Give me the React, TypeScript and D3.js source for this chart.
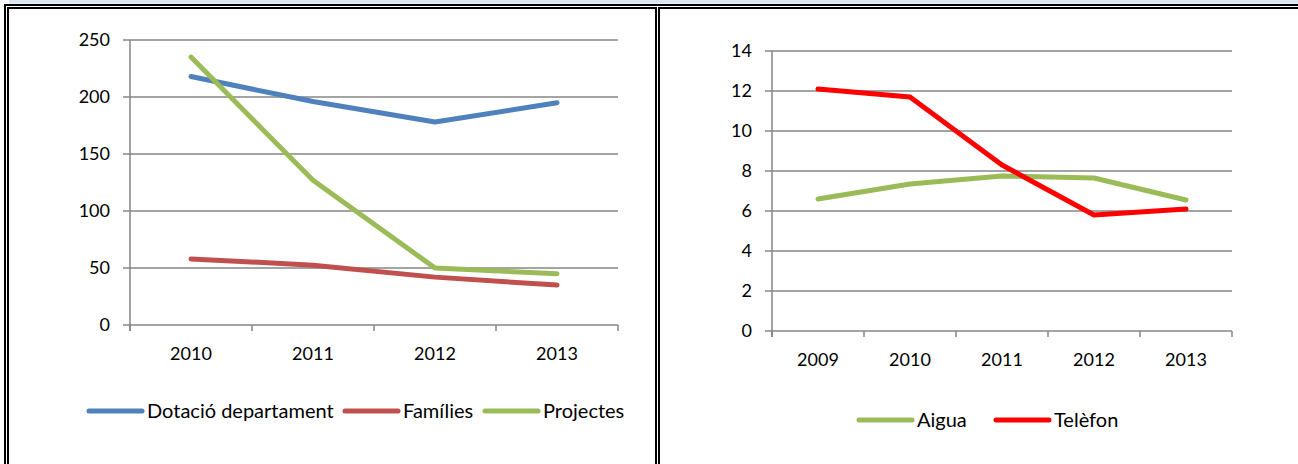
import * as d3 from 'd3';

const leftYears = ['2010', '2011', '2012', '2013'];
const dotacio = [218, 196, 178, 195];
const families = [58, 52.5, 42, 35];
const projectes = [235, 127, 50, 45];
const leftTicks = [0, 50, 100, 150, 200, 250];

const rightYears = ['2009', '2010', '2011', '2012', '2013'];
const aigua = [6.6, 7.35, 7.75, 7.65, 6.55];
const telefon = [12.1, 11.7, 8.3, 5.8, 6.1];
const rightTicks = [0, 2, 4, 6, 8, 10, 12, 14];

const FONT = 'Lato, "Noto Sans", sans-serif';
const GRID = '#868686';

interface Series {
  name: string;
  color: string;
  values: number[];
}

interface LegendItem {
  name: string;
  color: string;
  x: number;
}

function LineChart({
  cats,
  series,
  ticks,
  yMax,
  x0,
  x1,
  yTop,
  yBottom,
  legendY,
  legend,
}: {
  cats: string[];
  series: Series[];
  ticks: number[];
  yMax: number;
  x0: number;
  x1: number;
  yTop: number;
  yBottom: number;
  legendY: number;
  legend: LegendItem[];
}) {
  const y = d3.scaleLinear().domain([0, yMax]).range([yBottom, yTop]);
  const x = d3.scaleBand<string>().domain(cats).range([x0, x1]);
  const cx = (c: string) => (x(c) ?? 0) + x.bandwidth() / 2;
  const line = d3
    .line<number>()
    .x((_, i) => cx(cats[i]))
    .y((d) => y(d));
  const bounds = [...cats.map((c) => x(c) ?? 0), x1];

  return (
    <g>
      {ticks.map((t) => (
        <g key={`g-${t}`}>
          <line x1={x0 - 7} x2={x1} y1={y(t)} y2={y(t)} stroke={GRID} strokeWidth={1.5} />
          <text
            x={x0 - 20}
            y={y(t)}
            dy="0.36em"
            textAnchor="end"
            fontSize={18}
            fontFamily={FONT}
            fill="#000"
          >
            {t}
          </text>
        </g>
      ))}
      <line x1={x0} x2={x0} y1={yTop} y2={yBottom + 6} stroke={GRID} strokeWidth={1.5} />
      {bounds.map((b, i) => (
        <line key={`t-${i}`} x1={b} x2={b} y1={yBottom} y2={yBottom + 6} stroke={GRID} strokeWidth={1.5} />
      ))}
      {cats.map((c) => (
        <text
          key={`c-${c}`}
          x={cx(c)}
          y={yBottom + 35}
          textAnchor="middle"
          fontSize={18}
          fontFamily={FONT}
          fill="#000"
        >
          {c}
        </text>
      ))}
      {series.map((s) => (
        <path
          key={s.name}
          d={line(s.values) ?? undefined}
          fill="none"
          stroke={s.color}
          strokeWidth={5}
          strokeLinecap="round"
          strokeLinejoin="round"
        />
      ))}
      {legend.map((l) => (
        <g key={`l-${l.name}`}>
          <line
            x1={l.x}
            x2={l.x + 53}
            y1={legendY}
            y2={legendY}
            stroke={l.color}
            strokeWidth={5}
            strokeLinecap="round"
          />
          <text x={l.x + 58} y={legendY} dy="0.36em" fontSize={20} fontFamily={FONT} fill="#000">
            {l.name}
          </text>
        </g>
      ))}
    </g>
  );
}

export default function App() {
  const W = 1298;
  const H = 464;
  const leftSeries: Series[] = [
    { name: 'Dotació departament', color: '#4f81bd', values: dotacio },
    { name: 'Famílies', color: '#c0504d', values: families },
    { name: 'Projectes', color: '#9bbb59', values: projectes },
  ];
  const rightSeries: Series[] = [
    { name: 'Aigua', color: '#9bbb59', values: aigua },
    { name: 'Telèfon', color: '#ff0000', values: telefon },
  ];

  return (
    <div style={{ position: 'fixed', left: 0, top: 0 }}>
      <svg width={W} height={H} style={{ display: 'block', background: '#fff' }}>
        {/* frame */}
        <rect x={9} y={0} width={W - 9} height={3.5} fill="#dbe5f1" />
        <rect x={4} y={4} width={W - 4} height={2} fill="#000" />
        <rect x={7} y={7} width={W - 7} height={2} fill="#000" />
        <rect x={4} y={4} width={2} height={H - 4} fill="#000" />
        <rect x={7} y={7} width={2} height={H - 7} fill="#000" />
        <rect x={655} y={7} width={2} height={H - 7} fill="#000" />
        <rect x={658} y={7} width={2} height={H - 7} fill="#000" />
        <rect x={657} y={7} width={1} height={2} fill="#fff" />

        <LineChart
          cats={leftYears}
          series={leftSeries}
          ticks={leftTicks}
          yMax={250}
          x0={130}
          x1={618}
          yTop={40}
          yBottom={325}
          legendY={411}
          legend={[
            { name: 'Dotació departament', color: '#4f81bd', x: 89 },
            { name: 'Famílies', color: '#c0504d', x: 345 },
            { name: 'Projectes', color: '#9bbb59', x: 485 },
          ]}
        />
        <LineChart
          cats={rightYears}
          series={rightSeries}
          ticks={rightTicks}
          yMax={14}
          x0={772}
          x1={1232}
          yTop={51}
          yBottom={331}
          legendY={420}
          legend={[
            { name: 'Aigua', color: '#9bbb59', x: 859 },
            { name: 'Telèfon', color: '#ff0000', x: 996 },
          ]}
        />
      </svg>
    </div>
  );
}
